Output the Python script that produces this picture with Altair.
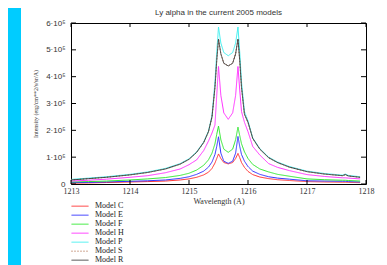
import altair as alt
import pandas as pd

wavelength = [1213.0, 1213.3, 1213.6, 1214.0, 1214.3, 1214.6, 1214.85, 1215.0, 1215.13, 1215.25,
              1215.33, 1215.39, 1215.44, 1215.47, 1215.50, 1215.54, 1215.59, 1215.665, 1215.74, 1215.79,
              1215.83, 1215.86, 1215.89, 1215.94, 1216.0, 1216.08, 1216.2, 1216.35, 1216.5, 1216.7,
              1217.0, 1217.3, 1217.6, 1217.65, 1217.7, 1217.9]

model_C = [0.03, 0.04, 0.055, 0.075, 0.09, 0.11, 0.15, 0.19, 0.25, 0.34,
           0.44, 0.58, 0.78, 0.95, 1.12, 0.95, 0.8, 0.75, 0.8, 0.95,
           1.14, 0.98, 0.8, 0.62, 0.47, 0.35, 0.26, 0.2, 0.16, 0.13,
           0.09, 0.075, 0.065, 0.065, 0.06, 0.05]
model_E = [0.05, 0.06, 0.075, 0.1, 0.12, 0.15, 0.21, 0.27, 0.36, 0.48,
           0.63, 0.82, 1.1, 1.4, 1.76, 1.15, 0.85, 0.77, 0.85, 1.15,
           1.77, 1.4, 1.1, 0.85, 0.65, 0.48, 0.36, 0.27, 0.22, 0.18,
           0.12, 0.11, 0.1, 0.1, 0.09, 0.075]
model_F = [0.075, 0.09, 0.11, 0.15, 0.19, 0.24, 0.32, 0.4, 0.52, 0.7,
           0.9, 1.15, 1.5, 1.85, 2.16, 1.65, 1.3, 1.18, 1.3, 1.65,
           2.12, 1.8, 1.5, 1.2, 0.95, 0.73, 0.56, 0.45, 0.36, 0.29,
           0.19, 0.16, 0.14, 0.14, 0.13, 0.11]
model_H = [0.11, 0.14, 0.18, 0.25, 0.31, 0.42, 0.56, 0.72, 0.9, 1.25,
           1.6, 1.9, 2.2, 3.3, 4.38, 3.3, 2.65, 2.41, 2.65, 3.3,
           4.38, 3.5, 2.7, 2.3, 1.95, 1.4, 1.08, 0.76, 0.62, 0.5,
           0.35, 0.28, 0.23, 0.23, 0.22, 0.19]
model_P = [0.17, 0.22, 0.27, 0.36, 0.45, 0.58, 0.76, 0.94, 1.2, 1.57,
           1.97, 2.55, 3.8, 4.9, 5.85, 5.25, 4.9, 4.78, 4.9, 5.25,
           5.85, 4.9, 3.8, 2.7, 2.35, 1.72, 1.32, 1.0, 0.82, 0.65,
           0.48, 0.39, 0.33, 0.37, 0.32, 0.27]
model_S = [0.15, 0.2, 0.25, 0.34, 0.43, 0.56, 0.74, 0.92, 1.18, 1.55,
           1.95, 2.5, 3.6, 4.6, 5.4, 4.85, 4.5, 4.4, 4.5, 4.85,
           5.4, 4.6, 3.6, 2.6, 2.3, 1.7, 1.3, 0.98, 0.8, 0.63,
           0.46, 0.37, 0.31, 0.35, 0.3, 0.25]
model_R = [0.15, 0.2, 0.25, 0.34, 0.43, 0.56, 0.74, 0.92, 1.18, 1.55,
           1.95, 2.5, 3.6, 4.6, 5.4, 4.85, 4.5, 4.4, 4.5, 4.85,
           5.4, 4.6, 3.6, 2.6, 2.3, 1.7, 1.3, 0.98, 0.8, 0.63,
           0.46, 0.37, 0.31, 0.35, 0.3, 0.25]

models = ["Model C", "Model E", "Model F", "Model H", "Model P", "Model S", "Model R"]
series = [model_C, model_E, model_F, model_H, model_P, model_S, model_R]
colors = ["#ff3030", "#3030ff", "#30e830", "#ff30ff", "#40f0f0", "#a0522d", "#404040"]
dashes = [[1, 0], [1, 0], [1, 0], [1, 0], [1, 0], [1, 2], [1, 0]]

x_ticks = [1213, 1214, 1215, 1216, 1217, 1218]
y_ticks = [0, 1, 2, 3, 4, 5, 6]

rows = []
for m, vals in zip(models, series):
    for order, (w, v) in enumerate(zip(wavelength, vals)):
        rows.append({"model": m, "wavelength": w, "intensity": v, "order": order})
df = pd.DataFrame(rows)

xs = alt.Scale(domain=[1213, 1218], nice=False, zero=False)
ys = alt.Scale(domain=[0, 6], nice=False)

x_axis = alt.Axis(values=x_ticks, title="Wavelength (A)", format="d", labelOverlap=False)
y_axis = alt.Axis(values=y_ticks, title="Intensity (erg/cm**2/s/sr/A)",
                  labelOverlap=False, labelSeparation=0,
                  labelExpr="datum.value == 0 ? '0' : datum.value + '·10⁵'")

cyan_strip = alt.Chart(pd.DataFrame({"a": [0]})).mark_rect(color="#00CCFF").encode(
    x=alt.value(-63), x2=alt.value(-50), y=alt.value(-15), y2=alt.value(250)
)

lines = alt.Chart(df).mark_line(strokeWidth=1, clip=True).encode(
    x=alt.X("wavelength:Q", scale=xs, axis=x_axis),
    y=alt.Y("intensity:Q", scale=ys, axis=y_axis),
    color=alt.Color("model:N", scale=alt.Scale(domain=models, range=colors), sort=models, title=None),
    strokeDash=alt.StrokeDash("model:N", scale=alt.Scale(domain=models, range=dashes), sort=models, title=None),
    order="order:Q",
)

xt = pd.DataFrame({"wavelength": x_ticks})
yt = pd.DataFrame({"intensity": y_ticks})
tick_bottom = alt.Chart(xt).mark_rule(color="black", strokeWidth=1).encode(
    x=alt.X("wavelength:Q", scale=xs, axis=x_axis), y=alt.value(161), y2=alt.value(157))
tick_top = alt.Chart(xt).mark_rule(color="black", strokeWidth=1).encode(
    x=alt.X("wavelength:Q", scale=xs, axis=x_axis), y=alt.value(0), y2=alt.value(4))
tick_left = alt.Chart(yt).mark_rule(color="black", strokeWidth=1).encode(
    y=alt.Y("intensity:Q", scale=ys, axis=y_axis), x=alt.value(0), x2=alt.value(5))
tick_right = alt.Chart(yt).mark_rule(color="black", strokeWidth=1).encode(
    y=alt.Y("intensity:Q", scale=ys, axis=y_axis), x=alt.value(295), x2=alt.value(290))

chart = alt.layer(cyan_strip, lines, tick_bottom, tick_top, tick_left, tick_right).properties(
    width=295, height=161,
    title=alt.TitleParams("Ly alpha in the current 2005 models", font="Liberation Sans",
                          fontSize=8, fontWeight="normal", color="#333333", offset=0,
                          baseline="bottom", dy=17),
    autosize=alt.AutoSizeParams(type="none"),
    padding={"left": 63, "top": 15, "right": 13, "bottom": 81},
    background="white",
).configure_view(
    stroke="black", strokeWidth=1
).configure_axis(
    ticks=False, domain=False, grid=False, labelColor="#333333", titleColor="#333333",
    titleFontWeight="normal",
).configure_axisX(
    labelFont="Liberation Serif", labelFontSize=8, labelPadding=3, labelFlush=False,
    titleFont="Liberation Serif", titleFontSize=8, titlePadding=2,
).configure_axisY(
    labelFont="Liberation Sans", labelFontSize=8, labelPadding=6,
    titleFont="Liberation Serif", titleFontSize=6, titlePadding=7,
).configure_legend(
    orient="none", legendX=0, legendY=179, symbolType="stroke", symbolSize=289,
    symbolStrokeWidth=1, labelFont="Liberation Serif", labelFontSize=8, labelColor="#222222",
    labelOffset=6, rowPadding=0, clipHeight=8.33, padding=0,
)

chart.save("out.html", embed_options={"renderer": "svg", "actions": False})
